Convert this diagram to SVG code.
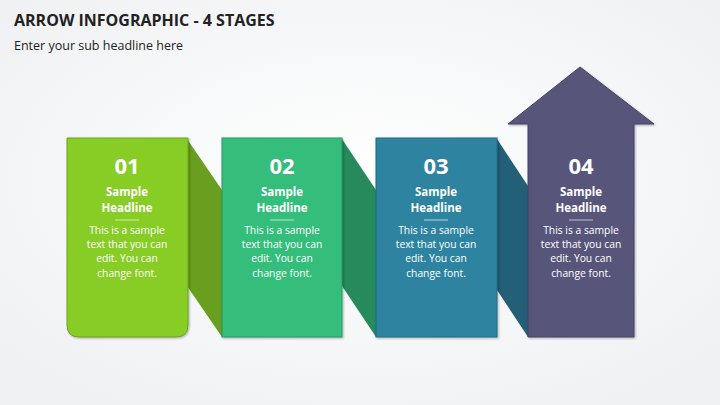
<svg xmlns="http://www.w3.org/2000/svg" width="720" height="405" viewBox="0 0 720 405">
<defs>
<radialGradient id="bg" cx="0.5" cy="0.45" r="0.7"><stop offset="0" stop-color="#ffffff"/><stop offset="1" stop-color="#eef0f2"/></radialGradient>
<filter id="sh" x="-10%" y="-10%" width="130%" height="130%"><feDropShadow dx="1" dy="1" stdDeviation="1.2" flood-opacity="0.3"/></filter>
</defs>
<style>
text{font-family:"Open Sans","Liberation Sans",sans-serif;fill:#fff;text-anchor:middle}
.n{font-size:22px;font-weight:bold}
.h{font-size:11.5px;font-weight:bold}
.b{font-size:10.3px}
.l{stroke:#fff;stroke-width:0.8;opacity:0.8}
</style>
<rect width="720" height="405" fill="url(#bg)"/>
<text x="14" y="26" style="font-size:16px;font-weight:bold;fill:#222;text-anchor:start">ARROW INFOGRAPHIC - 4 STAGES</text>
<text x="14" y="50" style="font-size:12.5px;fill:#222;text-anchor:start">Enter your sub headline here</text>
<g id="connectors">
<polygon points="187,139 222,190 222,337 187,286" fill="#6a9e1e"/>
<polygon points="342,139 376,190 376,337 342,286" fill="#268a5c"/>
<polygon points="497,139 528,186 528,337 497,290" fill="#235f77"/>
</g>
<g id="stage1">
<path d="M67,138 H188 V325 Q188,337 176,337 H79 Q67,337 67,325 Z" fill="#88cc26" stroke="#6da51c" stroke-width="1" filter="url(#sh)"/>
<text class="n" x="127" y="174">01</text>
<text class="h" x="127" y="196">Sample</text><text class="h" x="127" y="212">Headline</text>
<line class="l" x1="115" y1="220" x2="139" y2="220"/>
<text class="b" x="127" y="234">This is a sample</text><text class="b" x="127" y="248">text that you can</text><text class="b" x="127" y="262">edit. You can</text><text class="b" x="127" y="277">change font.</text>
</g>
<g id="stage2">
<rect x="222" y="138" width="120" height="199" fill="#34bd7b" stroke="#279a63" stroke-width="1" filter="url(#sh)"/>
<text class="n" x="282" y="174">02</text>
<text class="h" x="282" y="196">Sample</text><text class="h" x="282" y="212">Headline</text>
<line class="l" x1="270" y1="220" x2="294" y2="220"/>
<text class="b" x="282" y="234">This is a sample</text><text class="b" x="282" y="248">text that you can</text><text class="b" x="282" y="262">edit. You can</text><text class="b" x="282" y="277">change font.</text>
</g>
<g id="stage3">
<rect x="376" y="138" width="121" height="199" fill="#2e84a0" stroke="#236a82" stroke-width="1" filter="url(#sh)"/>
<text class="n" x="436" y="174">03</text>
<text class="h" x="436" y="196">Sample</text><text class="h" x="436" y="212">Headline</text>
<line class="l" x1="424" y1="220" x2="448" y2="220"/>
<text class="b" x="436" y="234">This is a sample</text><text class="b" x="436" y="248">text that you can</text><text class="b" x="436" y="262">edit. You can</text><text class="b" x="436" y="277">change font.</text>
</g>
<g id="stage4">
<polygon points="528,337 528,124 508,124 580,67 654,124 634,124 634,337" fill="#58547a" stroke="#474466" stroke-width="1" filter="url(#sh)"/>
<text class="n" x="581" y="174">04</text>
<text class="h" x="581" y="196">Sample</text><text class="h" x="581" y="212">Headline</text>
<line class="l" x1="569" y1="220" x2="593" y2="220"/>
<text class="b" x="581" y="234">This is a sample</text><text class="b" x="581" y="248">text that you can</text><text class="b" x="581" y="262">edit. You can</text><text class="b" x="581" y="277">change font.</text>
</g>
</svg>
